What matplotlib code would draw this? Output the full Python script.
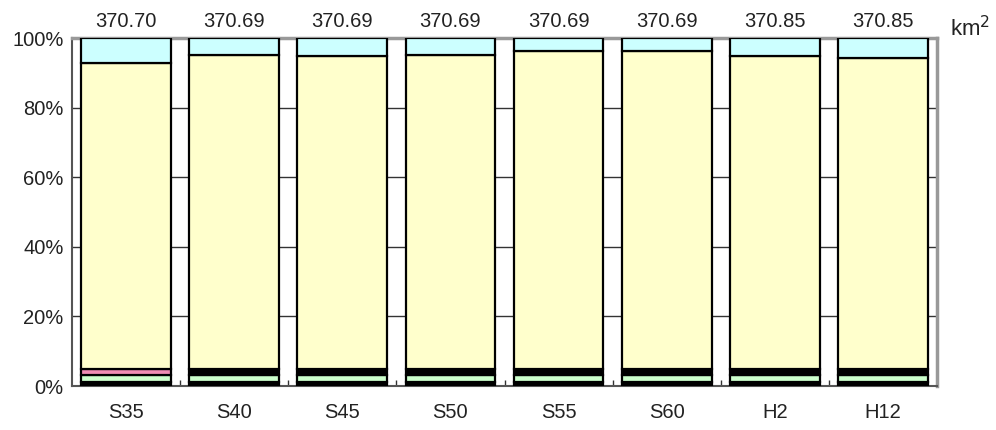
import matplotlib
matplotlib.use("Agg")
import matplotlib.pyplot as plt
import numpy as np

plt.rcParams['font.family'] = ['Liberation Sans', 'DejaVu Sans']

categories = ["S35", "S40", "S45", "S50", "S55", "S60", "H2", "H12"]
totals = ["370.70", "370.69", "370.69", "370.69", "370.69", "370.69", "370.85", "370.85"]

# shares in % from bottom to top
seg_bottom = [1.2, 1.2, 1.2, 1.2, 1.2, 1.2, 1.2, 1.2]
seg_green = [1.9, 1.9, 1.9, 1.9, 1.9, 1.9, 1.9, 1.9]
seg_third = [1.8, 1.8, 1.8, 1.8, 1.8, 1.8, 1.8, 1.8]
seg_cyan = [7.1, 5.0, 5.2, 4.8, 3.8, 3.8, 5.1, 5.7]
seg_yellow = [100 - a - b - c - d for a, b, c, d in zip(seg_bottom, seg_green, seg_third, seg_cyan)]
third_colors = ["#F08CB4", "#000000", "#000000", "#000000", "#000000", "#000000", "#000000", "#000000"]

fig = plt.figure(figsize=(9.96, 4.30), dpi=100)
ax = fig.add_axes([72/996, 1 - 386/430, (937-72)/996, (386-38)/430])

x = np.arange(len(categories))
w = 0.83
kw = dict(width=w, edgecolor="black", linewidth=1.6, zorder=3)
bottom = np.zeros(len(categories))
ax.bar(x, seg_bottom, bottom=bottom, color="black", **kw)
bottom += seg_bottom
ax.bar(x, seg_green, bottom=bottom, color="#CCFFCC", **kw)
bottom += seg_green
ax.bar(x, seg_third, bottom=bottom, color=third_colors, **kw)
bottom += seg_third
ax.bar(x, seg_yellow, bottom=bottom, color="#FFFFCC", **kw)
bottom += seg_yellow
ax.bar(x, seg_cyan, bottom=bottom, color="#CCFFFF", **kw)

ax.set_xlim(-0.5, len(categories) - 0.5)
ax.set_ylim(0, 100)
ax.set_yticks(np.arange(0, 101, 20))
ax.set_yticklabels([f"{v}%" for v in range(0, 101, 20)], fontsize=14.5, color="#222222")
ax.yaxis.grid(True, color="#333333", linewidth=1.0, zorder=0)
ax.set_axisbelow(True)
ax.tick_params(axis='y', length=0, pad=6)

ax.set_xticks(x)
ax.set_xticklabels(categories, fontsize=14.5, color="#222222")
ax.set_xticks(np.arange(0.5, len(categories) - 0.5, 1), minor=True)
ax.tick_params(axis='x', which='major', length=0, pad=12)
ax.tick_params(axis='x', which='minor', direction='in', length=4, width=1, color="#333333")

for s in ["left", "bottom"]:
    ax.spines[s].set_color("#555555")
    ax.spines[s].set_linewidth(1.5)
for s in ["top", "right"]:
    ax.spines[s].set_color("#999999")
    ax.spines[s].set_linewidth(2.5)

for i, t in enumerate(totals):
    ax.annotate(t, xy=(x[i], 100), xytext=(0, 5), textcoords="offset points",
                ha="center", va="bottom", fontsize=14.5, color="#222222",
                annotation_clip=False)

fig.text(950/996, 1 - 36/430, "km$^2$", fontsize=16, color="#222222", ha="left", va="baseline")

fig.savefig("out.png", dpi=100)
